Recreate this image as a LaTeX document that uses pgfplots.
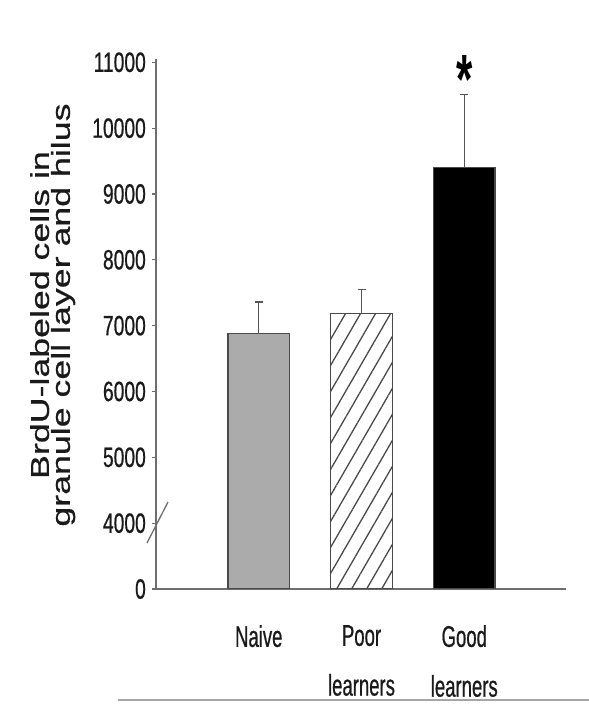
\documentclass[border=0pt]{standalone}
\usepackage{pgfplots}
\pgfplotsset{compat=1.18}
\usetikzlibrary{patterns.meta}
\usepackage{fontspec}
\setmainfont{Liberation Sans}
\newfontfamily\tickfont[FakeStretch=0.69, FakeBold=0.6]{Liberation Sans}
\newfontfamily\catfont[FakeStretch=0.62, FakeBold=0.6]{Liberation Sans}
\newfontfamily\labfont[FakeStretch=1.38, FakeBold=0.6]{Liberation Sans}
\newfontfamily\starfont[FakeStretch=0.6]{Liberation Sans}
\definecolor{axgray}{HTML}{6E6E6E}
\definecolor{txt}{HTML}{1A1A1A}
\definecolor{naivegray}{HTML}{ABABAB}
\definecolor{bordergray}{HTML}{4A4A4A}
\definecolor{errgray}{HTML}{555555}

\pgfplotstableread{
x y e
0 6880 475
}\naive
\pgfplotstableread{
x y e
1 7180 370
}\poor
\pgfplotstableread{
x y e
2 9400 1110
}\good

\begin{document}
\begin{tikzpicture}
\useasboundingbox (0,0) rectangle (589bp,704bp);
\begin{axis}[
  at={(156bp,115bp)}, anchor=south west,
  scale only axis, width=410bp, height=530bp,
  xmin=-1, xmax=2.99, ymin=3000, ymax=11050,
  scaled y ticks=false,
  axis x line=bottom, axis y line=left,
  axis line style={draw=axgray, line width=1.5bp, -},
  xtick={0,1,2},
  xticklabels={Naive,Poor\\learners,Good\\learners},
  xtick style={draw=none},
  xticklabel style={align=center, font=\catfont\fontsize{30}{50}\selectfont, text=txt, anchor=north, inner sep=0pt, yshift=-32bp},
  ytick={3000,4000,5000,6000,7000,8000,9000,10000,11000},
  yticklabels={0,4000,5000,6000,7000,8000,9000,10000,11000},
  yticklabel style={font=\tickfont\fontsize{28}{28}\selectfont, text=txt, inner sep=0pt, anchor=east, xshift=-6bp},
  ytick style={draw=axgray, line width=1.2bp},
  tick align=outside, major tick length=4bp,
  ylabel={BrdU-labeled cells in\\granule cell layer and hilus},
  ylabel style={align=center, font=\labfont\fontsize{26}{21}\selectfont, text=txt, at={(axis description cs:-0.252,0.517)}, anchor=center},
  clip=true,
]
\addplot[ybar, bar width=0.6, bar shift=0pt, fill=naivegray, draw=bordergray, line width=1.3bp,
  error bars/.cd, y dir=plus, y explicit,
  error bar style={line width=1.2bp, draw=errgray},
  error mark options={rotate=90, mark size=4bp, line width=1.6bp, draw=errgray}]
  table[x=x, y=y, y error=e] {\naive};
\addplot[ybar, bar width=0.6, bar shift=0pt, pattern={Lines[angle=60, distance=13bp, line width=1.3bp]}, pattern color=bordergray, draw=bordergray, line width=1.3bp,
  error bars/.cd, y dir=plus, y explicit,
  error bar style={line width=1.2bp, draw=errgray},
  error mark options={rotate=90, mark size=4bp, line width=1.6bp, draw=errgray}]
  table[x=x, y=y, y error=e] {\poor};
\addplot[ybar, bar width=0.6, bar shift=0pt, fill=black, draw=bordergray, line width=1.3bp,
  error bars/.cd, y dir=plus, y explicit,
  error bar style={line width=1.2bp, draw=errgray},
  error mark options={rotate=90, mark size=4bp, line width=1.6bp, draw=errgray}]
  table[x=x, y=y, y error=e] {\good};
\addplot[draw=none, mark=none, forget plot,
  nodes near coords={\starfont\bfseries\fontsize{70}{70}\selectfont *},
  every node near coord/.append style={anchor=base, yshift=-9bp, text=black, inner sep=0pt}]
  coordinates {(2,10511)};
\end{axis}
\draw[axgray, line width=1.3bp] (147bp,161bp) -- (168bp,202bp);
\draw[black!35, line width=2bp] (118bp,4bp) -- (589bp,4bp);
\end{tikzpicture}
\end{document}
